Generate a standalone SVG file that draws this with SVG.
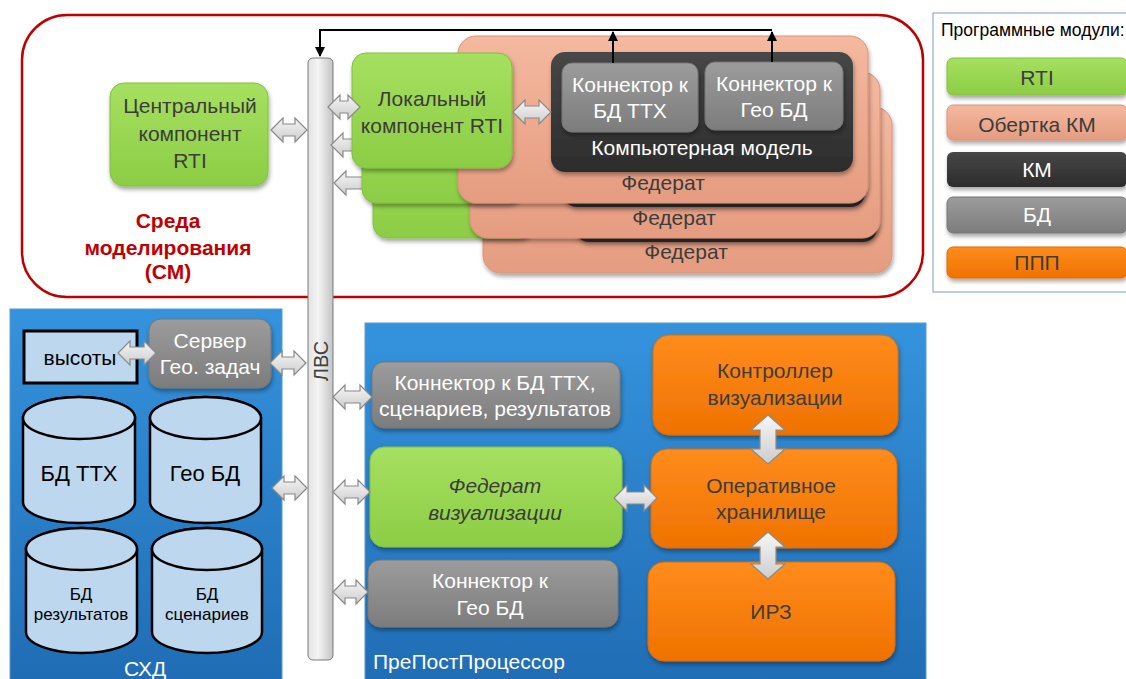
<svg xmlns="http://www.w3.org/2000/svg" width="1126" height="679" viewBox="0 0 1126 679">
<defs>
<linearGradient id="gGreen" x1="0" y1="0" x2="0" y2="1"><stop offset="0" stop-color="#a6e060"/><stop offset="1" stop-color="#8ccd45"/></linearGradient>
<linearGradient id="gSalmon" x1="0" y1="0" x2="0" y2="1"><stop offset="0" stop-color="#f4b9a0"/><stop offset="1" stop-color="#e59c80"/></linearGradient>
<linearGradient id="gDark" x1="0" y1="0" x2="0" y2="1"><stop offset="0" stop-color="#474747"/><stop offset="1" stop-color="#2c2c2c"/></linearGradient>
<linearGradient id="gGray" x1="0" y1="0" x2="0" y2="1"><stop offset="0" stop-color="#9c9c9c"/><stop offset="1" stop-color="#7c7c7c"/></linearGradient>
<linearGradient id="gOrange" x1="0" y1="0" x2="0" y2="1"><stop offset="0" stop-color="#ff8c1c"/><stop offset="1" stop-color="#ef7200"/></linearGradient>
<linearGradient id="gBlue" x1="0" y1="0" x2="0" y2="1"><stop offset="0" stop-color="#3593dd"/><stop offset="1" stop-color="#1f6cb3"/></linearGradient>
<linearGradient id="gBar" x1="0" y1="0" x2="1" y2="0"><stop offset="0" stop-color="#e2e2e2"/><stop offset="0.4" stop-color="#f4f4f4"/><stop offset="1" stop-color="#c4c4c4"/></linearGradient>
<linearGradient id="gArrow" x1="0" y1="0" x2="0" y2="1"><stop offset="0" stop-color="#f6f6f6"/><stop offset="1" stop-color="#cdcdcd"/></linearGradient>
<filter id="sh" x="-10%" y="-10%" width="130%" height="130%"><feDropShadow dx="1" dy="3" stdDeviation="2" flood-color="#000" flood-opacity="0.35"/></filter>
<marker id="ah" viewBox="0 0 10 10" refX="9" refY="5" markerWidth="5" markerHeight="5" orient="auto"><path d="M0,0 L10,5 L0,10 Z" fill="#000"/></marker>
<style>
text{font-family:"Liberation Sans",Arial,sans-serif;text-anchor:middle}
.green{fill:url(#gGreen);stroke:#82c03e;stroke-width:1;filter:url(#sh)}
.salmon{fill:url(#gSalmon);stroke:#d9927a;stroke-width:1;filter:url(#sh)}
.dark{fill:url(#gDark);filter:url(#sh)}
.gray{fill:url(#gGray);stroke:#777;stroke-width:1;filter:url(#sh)}
.orange{fill:url(#gOrange);stroke:#e06a00;stroke-width:1;filter:url(#sh)}
.blue{fill:url(#gBlue);stroke:#5a9ad0;stroke-width:1}
.cyl{fill:#bdd7ee;stroke:#000;stroke-width:2.5}
.arr{fill:url(#gArrow);stroke:#8a8a8a;stroke-width:1.2}
.conn{fill:none;stroke:#000;stroke-width:2}
.tDark{fill:#3c3c3c;font-size:21px}
.tW{fill:#fff;font-size:21px}
.tB{fill:#000}
</style>
</defs>
<rect width="1126" height="679" fill="#fff"/>

<g id="sm-frame">
<rect x="22" y="15" width="901" height="282" rx="45" fill="none" stroke="#c00000" stroke-width="2.5"/>
<text x="168" y="228" fill="#c00000" font-size="21" font-weight="bold">Среда</text>
<text x="168" y="255" fill="#c00000" font-size="21" font-weight="bold">моделирования</text>
<text x="168" y="279" fill="#c00000" font-size="21" font-weight="bold">(СМ)</text>
</g>

<g id="legend">
<rect x="933" y="13" width="200" height="279" fill="#fff" stroke="#7f9cc0" stroke-width="1"/>
<text x="941" y="36" font-size="17.5" style="text-anchor:start" fill="#000">Программные модули:</text>
<rect class="green" x="947" y="58" width="180" height="37" rx="6"/>
<text class="tDark" x="1037" y="85" font-size="20">RTI</text>
<rect class="salmon" x="947" y="105" width="180" height="35" rx="6"/>
<text class="tDark" x="1037" y="132">Обертка КМ</text>
<rect class="dark" x="947" y="152" width="180" height="35" rx="6"/>
<text class="tW" x="1037" y="177">КМ</text>
<rect class="gray" x="947" y="197" width="180" height="36" rx="6"/>
<text class="tW" x="1037" y="222">БД</text>
<rect class="orange" x="947" y="247" width="180" height="31" rx="6"/>
<text class="tDark" x="1037" y="270">ППП</text>
</g>

<g id="shd">
<rect class="blue" x="10" y="309" width="272" height="380"/>
<text class="tW" x="145" y="676" font-size="22">СХД</text>
</g>

<g id="ppp">
<rect class="blue" x="365" y="323" width="561" height="370"/>
<text class="tW" x="373" y="669" style="text-anchor:start">ПреПостПроцессор</text>
</g>

<g id="lan">
<rect x="308" y="58" width="25" height="602" rx="5" fill="url(#gBar)" stroke="#7a7a7a" stroke-width="1"/>
<text x="0" y="0" fill="#404040" font-size="20" transform="translate(328 361) rotate(-90)">ЛВС</text>
</g>

<g id="connectors-back">
<path class="arr" d="M331 145 L343 133 L343 139 L363 139 L363 133 L375 145 L363 157 L363 151 L343 151 L343 157 Z"/>
<path class="arr" d="M334 183 L346 171 L346 177 L373 177 L373 171 L385 183 L373 195 L373 189 L346 189 L346 195 Z"/>
</g>

<g id="central-rti">
<rect class="green" x="110" y="83" width="158" height="103" rx="14"/>
<text class="tDark" x="190" y="113">Центральный</text>
<text class="tDark" x="190" y="141">компонент</text>
<text class="tDark" x="190" y="168">RTI</text>
</g>

<g id="federat-3">
<rect class="salmon" x="483" y="107" width="409" height="166" rx="18"/>
<rect class="dark" x="575" y="122" width="302" height="120" rx="14"/>
<text class="tDark" x="686" y="259" font-size="20">Федерат</text>
<rect class="green" x="373" y="123" width="160" height="115" rx="14"/>
</g>

<g id="federat-2">
<rect class="salmon" x="470" y="72" width="410" height="166" rx="18"/>
<rect class="dark" x="563" y="87" width="302" height="120" rx="14"/>
<text class="tDark" x="674" y="225" font-size="20">Федерат</text>
<rect class="green" x="362" y="88" width="160" height="115" rx="14"/>
</g>

<g id="federat-1">
<rect class="salmon" x="458" y="36" width="410" height="167" rx="18"/>
<text class="tDark" x="663" y="190" font-size="20">Федерат</text>
</g>

<g id="km">
<rect class="dark" x="551" y="52" width="302" height="120" rx="14"/>
<text class="tW" x="702" y="155" font-size="20">Компьютерная модель</text>
</g>

<g id="conn-ttx">
<rect class="gray" x="562" y="63" width="136" height="69" rx="10"/>
<text class="tW" x="630" y="92">Коннектор к</text>
<text class="tW" x="630" y="118">БД ТТХ</text>
</g>

<g id="conn-geo">
<rect class="gray" x="705" y="62" width="138" height="68" rx="10"/>
<text class="tW" x="774" y="91">Коннектор к</text>
<text class="tW" x="774" y="117">Гео БД</text>
</g>

<g id="local-rti">
<rect class="green" x="352" y="53" width="160" height="115" rx="14"/>
<text class="tDark" x="432" y="106">Локальный</text>
<text class="tDark" x="432" y="133">компонент RTI</text>
</g>

<g id="heights">
<rect x="24" y="331" width="113" height="52" fill="#bdd7ee" stroke="#000" stroke-width="3"/>
<text class="tB" x="80" y="365" font-size="21">высоты</text>
</g>

<g id="geo-server">
<rect class="gray" x="149" y="319" width="122" height="69" rx="12"/>
<text class="tW" x="210" y="348" font-size="20">Сервер</text>
<text class="tW" x="210" y="374" font-size="20">Гео. задач</text>
</g>

<g id="db-ttx">
<path class="cyl" d="M23 418 V502 A56 21 0 0 0 135 502 V418 A56 21 0 0 0 23 418 Z"/>
<ellipse class="cyl" cx="79" cy="418" rx="56" ry="21"/>
<text class="tB" x="79" y="481" font-size="22">БД ТТХ</text>
</g>

<g id="db-geo">
<path class="cyl" d="M150 418 V502 A55.5 21 0 0 0 261 502 V418 A55.5 21 0 0 0 150 418 Z"/>
<ellipse class="cyl" cx="205.5" cy="418" rx="55.5" ry="21"/>
<text class="tB" x="205" y="481" font-size="22">Гео БД</text>
</g>

<g id="db-results">
<path class="cyl" d="M26 549 V632 A55.5 21 0 0 0 137 632 V549 A55.5 21 0 0 0 26 549 Z"/>
<ellipse class="cyl" cx="81.5" cy="549" rx="55.5" ry="21"/>
<text class="tB" x="81" y="600" font-size="17">БД</text>
<text class="tB" x="81" y="620" font-size="17">результатов</text>
</g>

<g id="db-scenarios">
<path class="cyl" d="M152 549 V632 A55 21 0 0 0 262 632 V549 A55 21 0 0 0 152 549 Z"/>
<ellipse class="cyl" cx="207" cy="549" rx="55" ry="21"/>
<text class="tB" x="207" y="600" font-size="17">БД</text>
<text class="tB" x="207" y="620" font-size="17">сценариев</text>
</g>

<g id="ppp-conn-ttx">
<rect class="gray" x="372" y="362" width="248" height="66" rx="12"/>
<text class="tW" x="495" y="390">Коннектор к БД ТТХ,</text>
<text class="tW" x="495" y="416">сценариев, результатов</text>
</g>

<g id="vis-federat">
<rect class="green" x="370" y="447" width="252" height="100" rx="14"/>
<text class="tDark" x="495" y="493" font-style="italic">Федерат</text>
<text class="tDark" x="495" y="520" font-style="italic">визуализации</text>
</g>

<g id="ppp-conn-geo">
<rect class="gray" x="368" y="560" width="250" height="67" rx="12"/>
<text class="tW" x="490" y="588">Коннектор к</text>
<text class="tW" x="490" y="615">Гео БД</text>
</g>

<g id="vis-controller">
<rect class="orange" x="653" y="335" width="245" height="100" rx="16"/>
<text class="tDark" x="775" y="378">Контроллер</text>
<text class="tDark" x="775" y="405" font-size="18">визуализации</text>
</g>

<g id="op-storage">
<rect class="orange" x="651" y="449" width="246" height="99" rx="16"/>
<text class="tDark" x="771" y="493">Оперативное</text>
<text class="tDark" x="771" y="519">хранилище</text>
</g>

<g id="irz">
<rect class="orange" x="648" y="562" width="247" height="99" rx="16"/>
<text class="tDark" x="771" y="619">ИРЗ</text>
</g>

<g id="connectors">
<path class="arr" d="M271 130 L283 118 L283 124 L295 124 L295 118 L307 130 L295 142 L295 136 L283 136 L283 142 Z"/>
<path class="arr" d="M328 107 L340 95 L340 101 L348 101 L348 95 L360 107 L348 119 L348 113 L340 113 L340 119 Z"/>
<path class="arr" d="M513 112 L525 100 L525 106 L539 106 L539 100 L551 112 L539 124 L539 118 L525 118 L525 124 Z"/>
<path class="arr" d="M118 353 L130 341 L130 347 L144 347 L144 341 L156 353 L144 365 L144 359 L130 359 L130 365 Z"/>
<path class="arr" d="M270 363 L282 351 L282 357 L294 357 L294 351 L306 363 L294 375 L294 369 L282 369 L282 375 Z"/>
<path class="arr" d="M272 488 L284 476 L284 482 L295 482 L295 476 L307 488 L295 500 L295 494 L284 494 L284 500 Z"/>
<path class="arr" d="M333 397 L345 385 L345 391 L360 391 L360 385 L372 397 L360 409 L360 403 L345 403 L345 409 Z"/>
<path class="arr" d="M333 492 L345 480 L345 486 L358 486 L358 480 L370 492 L358 504 L358 498 L345 498 L345 504 Z"/>
<path class="arr" d="M333 592 L345 580 L345 586 L356 586 L356 580 L368 592 L356 604 L356 598 L345 598 L345 604 Z"/>
<path class="arr" d="M614 498 L627 485 L627 492 L644 492 L644 485 L657 498 L644 511 L644 504 L627 504 L627 511 Z"/>
<path class="arr" d="M768 415 L785 430 L776 430 L776 449 L785 449 L768 464 L751 449 L760 449 L760 430 L751 430 Z"/>
<path class="arr" d="M768 532 L785 547 L776 547 L776 564 L785 564 L768 579 L751 564 L760 564 L760 547 L751 547 Z"/>
<path class="conn" d="M613 63 V32" marker-end="url(#ah)"/>
<path class="conn" d="M772 62 V32" marker-end="url(#ah)"/>
<path class="conn" d="M772 30 H320 V56" marker-end="url(#ah)"/>
</g>
</svg>
